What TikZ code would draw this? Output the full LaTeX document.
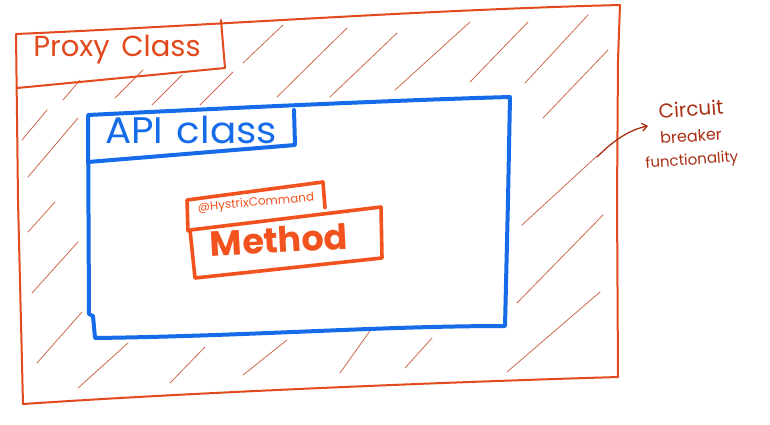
\documentclass[tikz,border=0pt]{standalone}
\usepackage{fontspec}
\setmainfont{Poppins}
\usetikzlibrary{arrows.meta}
\definecolor{proxyred}{RGB}{226,74,30}
\definecolor{apiblue}{RGB}{22,108,232}
\definecolor{methodorange}{RGB}{242,82,30}
\definecolor{hatchred}{RGB}{205,105,80}
\definecolor{notered}{RGB}{168,48,20}
\tikzset{
  proxybox/.style={draw=proxyred, line width=2pt, line join=round, line cap=round},
  apibox/.style={draw=apiblue, line width=4pt, line join=round, line cap=round},
  methodbox/.style={draw=methodorange, line width=3.6pt, line join=round, line cap=round},
  hatch/.style={draw=hatchred, line width=0.8pt, line cap=round},
  lbl/.style={inner sep=0pt, anchor=center},
  notetext/.style={lbl, text=notered, rotate=4},
}
\begin{document}
\begin{tikzpicture}[x=1pt,y=-1pt]
\useasboundingbox[fill=white] (0,0) rectangle (770,424);
% hatch lines
\foreach \a/\b/\c/\d in {
 63/100/80/80, 115/98/143/70, 152/105/182/75, 200/105/233/72, 243/63/283/25,
 277/97/347/28, 330/97/397/33, 395/90/470/22, 470/82/528/22, 525/83/588/15,
 543/118/608/50, 522/225/597/156, 22/140/47/110, 28/177/78/118, 28/232/55/202,
 32/293/78/242, 37/363/82/312, 78/388/128/343, 170/383/205/347, 243/375/287/340,
 340/373/372/328, 517/303/603/215, 405/368/432/338, 507/372/600/292}
  \draw[hatch] (\a,\b) -- (\c,\d);
% proxy class outer box
\draw[proxybox] (16,34) .. controls (200,26) and (420,10) .. (620,5)
  -- (618,60) -- (617,200) -- (618,377)
  .. controls (450,382) and (200,392) .. (23,404) -- (18,200) -- cycle;
% proxy tab
\draw[proxybox] (17,88) -- (225,68) -- (221,20);
\node[lbl, text=proxyred, font=\fontsize{29}{29}\selectfont] (proxy) at (117,50) {Proxy\hspace{0.4em}Class};
% API class box
\draw[apibox] (88,115) .. controls (230,108) and (400,100) .. (510,97)
  -- (508,200) -- (505,326)
  .. controls (380,326) and (250,336) .. (95,338) -- (93,316) -- (89,314) -- cycle;
\draw[apibox] (88,162) -- (295,145) -- (294,110);
\node[lbl, text=apiblue, font=\fontsize{37}{37}\selectfont, xscale=1.05] (api) at (191,130) {API\hspace{0.35em}class};
% Method boxes
\draw[methodbox] (188,231) -- (187,200) -- (323,182) -- (325,208);
\node[lbl, text=methodorange, font=\fontsize{12}{12}\selectfont, rotate=5] (hystrix) at (256,203) {@HystrixCommand};
\draw[methodbox] (190,230) -- (381,207) -- (382,258) -- (195,278) -- cycle;
\node[lbl, text=methodorange, font=\fontsize{35}{35}\selectfont\bfseries, rotate=3] (method) at (279,240) {Method};
% annotation
\node[notetext, font=\fontsize{20}{20}\selectfont] (circuit) at (691,109) {Circuit};
\node[notetext, font=\fontsize{16}{16}\selectfont] (breaker) at (691,136) {breaker};
\node[notetext, font=\fontsize{15}{15}\selectfont] (functionality) at (692,161) {functionality};
\coordinate (arrowstart) at (597,157);
\coordinate (arrowend) at (648,126);
\draw[notered, line width=1.3pt, line cap=round, -{Straight Barb[length=5pt,width=8pt]}] (arrowstart) .. controls (612,142) and (628,130) .. (arrowend);
\end{tikzpicture}
\end{document}
